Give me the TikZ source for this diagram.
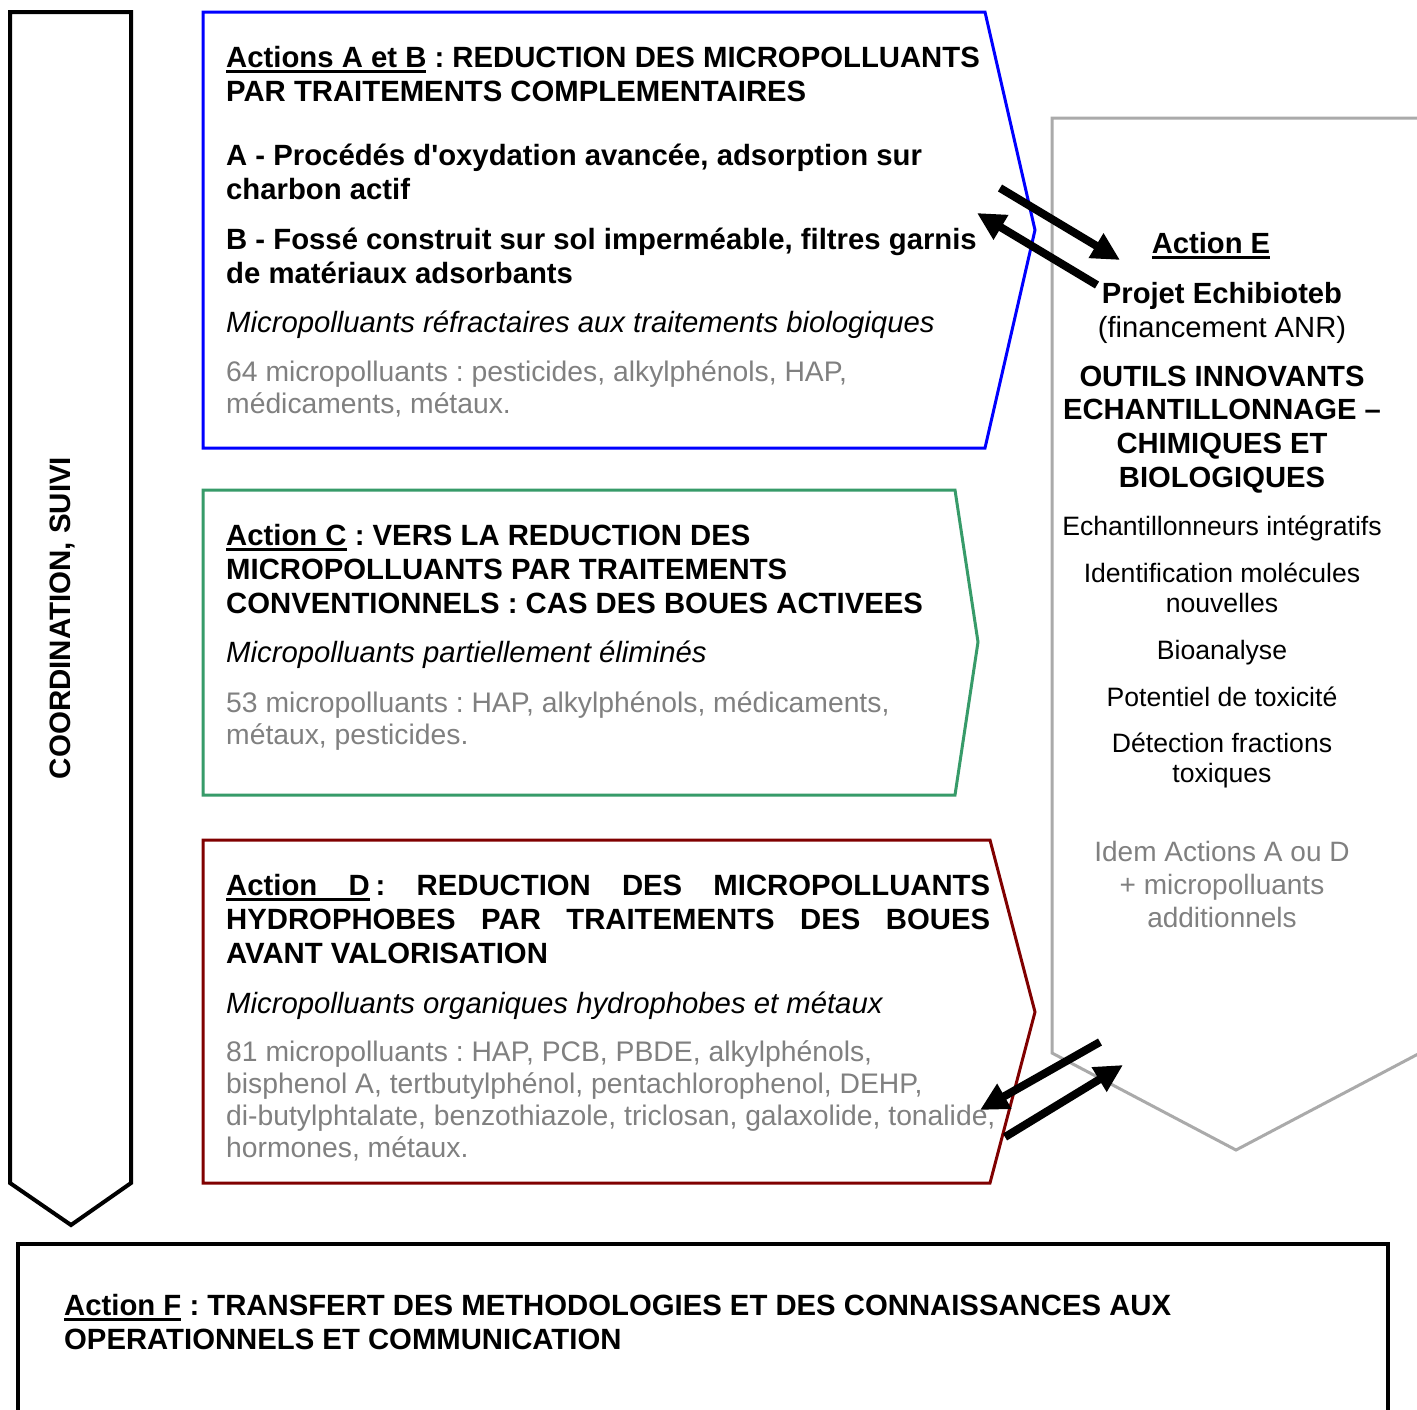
\documentclass[tikz,border=0pt]{standalone}
\usepackage{fontspec}
\setmainfont{Liberation Sans}[Ligatures=TeXOff]
\usetikzlibrary{arrows.meta}
\definecolor{boxblue}{RGB}{0,0,255}
\definecolor{boxgreen}{RGB}{55,155,105}
\definecolor{boxred}{RGB}{128,0,0}
\definecolor{shapegray}{RGB}{170,170,170}
\definecolor{txtgray}{RGB}{128,128,128}
\newcommand\myul[1]{\setbox0\hbox{#1}\rlap{\rule[-6pt]{\wd0}{3pt}}\box0\relax}
\newcommand\ulsp{\leaders\hrule height -3pt depth 6pt\hskip\fontdimen2\font plus\fontdimen3\font minus\fontdimen4\font\relax}
\newcommand\fx{\frenchspacing\spaceskip=\fontdimen2\font\relax\xspaceskip=\fontdimen2\font\relax}
\tikzset{
  frame/.style={line width=3pt, line join=miter},
  ltxt/.style={anchor=base west, inner sep=0pt, text width=800pt, align=left},
  ctxt/.style={anchor=base, inner sep=0pt, text width=360pt, align=center},
  bigfont/.style={font=\bfseries\fontsize{29.3}{34}\selectfont},
  itfont/.style={font=\itshape\fontsize{29.3}{34}\selectfont},
  grayfont/.style={text=txtgray, font=\fontsize{28.3}{32}\selectfont},
  itemfont/.style={font=\fontsize{26.6}{30.5}\selectfont},
  bigarrow/.style={line width=8pt, -{Triangle[length=28pt,width=27pt]}},
}
\begin{document}
\begin{tikzpicture}[x=1pt,y=-1pt]
\useasboundingbox (0,0) rectangle (1417,1409);
\fill[white] (0,0) rectangle (1417,1409);

% coordination arrow
\draw[line width=4pt, line join=miter] (10,12) -- (131,12) -- (131,1183) -- (71,1225) -- (10,1183) -- cycle;
\node[rotate=90, anchor=center, inner sep=0pt, font=\bfseries\fontsize{29.5}{34}\selectfont] (coord) at (62,618) {\fx COORDINATION, SUIVI};

% gray E shape
\draw[frame, shapegray] (1430,118) -- (1052,118) -- (1052,1053) -- (1236,1150) -- (1420,1053);

% blue box
\draw[frame, boxblue] (203,12) -- (985,12) -- (1035,230) -- (985,448) -- (203,448) -- cycle;
% green box
\draw[frame, boxgreen] (203,490) -- (955,490) -- (978,642) -- (955,795) -- (203,795) -- cycle;
% red box
\draw[frame, boxred] (203,840) -- (990,840) -- (1035,1012) -- (990,1183) -- (203,1183) -- cycle;
% F box
\draw[line width=4pt, line join=miter] (18,1430) -- (18,1244) -- (1388,1244) -- (1388,1430);

% blue texts
\node[ltxt, bigfont] (abtitle) at (226,67) {\fx\myul{Actions A et B} : REDUCTION DES MICROPOLLUANTS\\PAR TRAITEMENTS COMPLEMENTAIRES};
\node[ltxt, bigfont] (atxt) at (226,165) {\fx A - Procédés d'oxydation avancée, adsorption sur\\charbon actif};
\node[ltxt, bigfont] (btxt) at (226,249) {\fx B - Fossé construit sur sol imperméable, filtres garnis\\de matériaux adsorbants};
\node[ltxt, itfont] (abit) at (226,332) {\fx Micropolluants réfractaires aux traitements biologiques};
\node[ltxt, grayfont] (abgray) at (226,381) {\fx 64 micropolluants : pesticides, alkylphénols, HAP,\\médicaments, métaux.};

% green texts
\node[ltxt, bigfont] (ctitle) at (226,545) {\fx\myul{Action C} : VERS LA REDUCTION DES\\MICROPOLLUANTS PAR TRAITEMENTS\\CONVENTIONNELS : CAS DES BOUES ACTIVEES};
\node[ltxt, itfont] (cit) at (226,662) {\fx Micropolluants partiellement éliminés};
\node[ltxt, grayfont] (cgray) at (226,712) {\fx 53 micropolluants : HAP, alkylphénols, médicaments,\\métaux, pesticides.};

% red texts
\node[ltxt, bigfont] (dtitle) at (226,895) {\fx\makebox[764pt][s]{\spaceskip=0pt\relax\myul{Action}\ulsp\myul{D}\hspace{6pt}: REDUCTION DES MICROPOLLUANTS}\\\makebox[764pt][s]{\spaceskip=0pt\relax HYDROPHOBES PAR TRAITEMENTS DES BOUES}\\AVANT VALORISATION};
\node[ltxt, itfont] (dit) at (226,1013) {\fx Micropolluants organiques hydrophobes et métaux};
\node[ltxt, grayfont] (dgray) at (226,1061) {\fx 81 micropolluants : HAP, PCB, PBDE, alkylphénols,\\bisphenol A, tertbutylphénol, pentachlorophenol, DEHP,\\di-butylphtalate, benzothiazole, triclosan, galaxolide, tonalide,\\hormones, métaux.};

% E texts
\node[ctxt, font=\bfseries\fontsize{29.2}{34}\selectfont] (etitle) at (1211,253) {\fx\myul{Action E}};
\node[ctxt, font=\fontsize{29.2}{34}\selectfont] (eproj) at (1222,303) {\fx\textbf{Projet Echibioteb}\\(financement ANR)};
\node[ctxt, font=\bfseries\fontsize{29.2}{33.7}\selectfont] (eoutils) at (1222,386) {\fx OUTILS INNOVANTS\\ECHANTILLONNAGE –\\CHIMIQUES ET\\BIOLOGIQUES};
\node[ctxt, itemfont] (e1) at (1222,535) {\fx Echantillonneurs intégratifs};
\node[ctxt, itemfont] (e2) at (1222,582) {\fx Identification molécules\\nouvelles};
\node[ctxt, itemfont] (e3) at (1222,659) {\fx Bioanalyse};
\node[ctxt, itemfont] (e4) at (1222,706) {\fx Potentiel de toxicité};
\node[ctxt, itemfont] (e5) at (1222,752) {\fx Détection fractions\\toxiques};
\node[ctxt, text=txtgray, font=\fontsize{28}{33}\selectfont] (egray) at (1222,861) {\fx Idem Actions A ou D\\+ micropolluants\\additionnels};

% F text
\node[ltxt, bigfont, text width=1300pt] (ftitle) at (64,1315) {\fx\myul{Action F} : TRANSFERT DES METHODOLOGIES ET DES CONNAISSANCES AUX\\OPERATIONNELS ET COMMUNICATION};

% arrows
\coordinate (a1s) at (1000,188); \coordinate (a1e) at (1120,260);
\coordinate (a2s) at (1097,285); \coordinate (a2e) at (977,213);
\coordinate (b1s) at (1100,1042); \coordinate (b1e) at (980,1110);
\coordinate (b2s) at (1005,1137); \coordinate (b2e) at (1123,1065);
\draw[bigarrow] (a1s) -- (a1e);
\draw[bigarrow] (a2s) -- (a2e);
\draw[bigarrow] (b1s) -- (b1e);
\draw[bigarrow] (b2s) -- (b2e);
\end{tikzpicture}
\end{document}
